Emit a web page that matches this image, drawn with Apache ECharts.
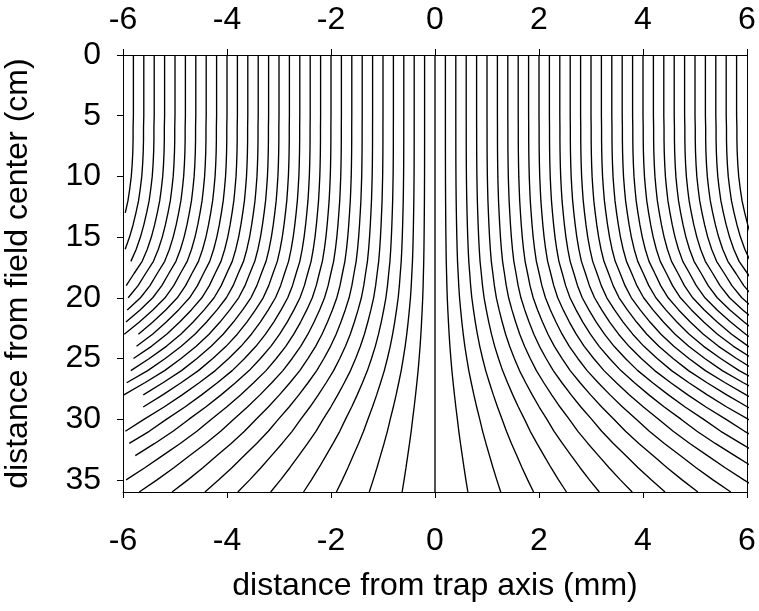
<!DOCTYPE html>
<html>
<head>
<meta charset="utf-8">
<script src="https://cdn.jsdelivr.net/npm/echarts@6/dist/echarts.min.js"></script>
<style>
  html, body { margin: 0; padding: 0; background: #fff; }
  #chart { width: 759px; height: 611px; }
</style>
</head>
<body>
<div id="chart"></div>
<script>
// Starting positions of the field lines at the field center (mm)
const lineStarts = [
  -5.8, -5.6, -5.4, -5.2, -5.0, -4.8, -4.6, -4.4, -4.2, -4.0,
  -3.8, -3.6, -3.4, -3.2, -3.0, -2.8, -2.6, -2.4, -2.2, -2.0,
  -1.8, -1.6, -1.4, -1.2, -1.0, -0.8, -0.6, -0.4, -0.2, 0.0,
  0.2, 0.4, 0.6, 0.8, 1.0, 1.2, 1.4, 1.6, 1.8, 2.0,
  2.2, 2.4, 2.6, 2.8, 3.0, 3.2, 3.4, 3.6, 3.8, 4.0,
  4.2, 4.4, 4.6, 4.8, 5.0, 5.2, 5.4, 5.6, 5.8
];

// Depth below the field center (cm), one sample per centimetre
const depths = [
  0, 1, 2, 3, 4, 5, 6, 7, 8, 9, 10, 11, 12, 13, 14, 15, 16, 17, 18,
  19, 20, 21, 22, 23, 24, 25, 26, 27, 28, 29, 30, 31, 32, 33, 34, 35, 36
];

// Radial spread of each field line relative to its start, at each depth
const spread = [
  1.000, 1.000, 1.000, 1.000, 1.000, 1.000, 1.001, 1.001, 1.002, 1.004,
  1.007, 1.012, 1.018, 1.027, 1.037, 1.049, 1.064, 1.083, 1.113, 1.142,
  1.180, 1.233, 1.292, 1.358, 1.435, 1.526, 1.625, 1.744, 1.870, 2.004,
  2.150, 2.290, 2.450, 2.620, 2.790, 2.970, 3.160
];

// Tick values
const xTicks = [-6, -4, -2, 0, 2, 4, 6];
const yTicks = [0, 5, 10, 15, 20, 25, 30, 35];
const xLimit = 6;

const FONT = '"Liberation Sans", Arial, sans-serif';
const FS = 32;

// Each line follows its start position scaled by the spread. Lines on the
// negative side keep only the samples that stay inside the plotted range;
// lines on the positive side run on and are cut off at the frame.
const series = lineStarts.map(function (x0) {
  const pts = [];
  for (let i = 0; i < depths.length; i++) {
    const x = x0 * spread[i];
    if (x0 < 0 && x < -xLimit) break;
    pts.push([x, depths[i]]);
  }
  return {
    type: 'line',
    data: pts,
    showSymbol: false,
    smooth: false,
    clip: true,
    silent: true,
    lineStyle: { color: '#000', width: 1.35 },
    z: 2
  };
});

const chart = echarts.init(document.getElementById('chart'), null, { renderer: 'canvas' });

chart.setOption({
  animation: false,
  backgroundColor: '#fff',
  grid: { left: 123, right: 12, top: 55, bottom: 119, containLabel: false, outerBoundsMode: 'none' },
  xAxis: [
    {
      type: 'value', position: 'bottom', min: -6, max: 6, interval: 2,
      name: 'distance from trap axis (mm)', nameLocation: 'middle', nameGap: 78,
      nameTextStyle: { fontFamily: FONT, fontSize: FS, color: '#000' },
      axisLine: { show: true, onZero: false, lineStyle: { color: '#000', width: 1 } },
      axisTick: { show: true, inside: false, length: 6, customValues: xTicks, lineStyle: { color: '#000' } },
      axisLabel: { fontFamily: FONT, fontSize: FS, color: '#000', margin: 33, customValues: xTicks },
      splitLine: { show: false }
    },
    {
      type: 'value', position: 'top', min: -6, max: 6, interval: 2,
      axisLine: { show: true, onZero: false, lineStyle: { color: '#000', width: 1 } },
      axisTick: { show: true, inside: false, length: 6, customValues: xTicks, lineStyle: { color: '#000' } },
      axisLabel: { fontFamily: FONT, fontSize: FS, color: '#000', margin: 19, customValues: xTicks },
      splitLine: { show: false }
    }
  ],
  yAxis: [
    {
      type: 'value', position: 'left', inverse: true, min: 0, max: 36, interval: 5,
      name: 'distance from field center (cm)', nameLocation: 'middle', nameGap: 89,
      nameRotate: 90,
      nameTextStyle: { fontFamily: FONT, fontSize: FS, color: '#000' },
      axisLine: { show: true, onZero: false, lineStyle: { color: '#000', width: 1 } },
      axisTick: { show: true, inside: false, length: 6, customValues: yTicks, lineStyle: { color: '#000' } },
      axisLabel: { fontFamily: FONT, fontSize: FS, color: '#000', margin: 22, customValues: yTicks },
      splitLine: { show: false }
    },
    {
      type: 'value', position: 'right', inverse: true, min: 0, max: 36,
      axisLine: { show: true, onZero: false, lineStyle: { color: '#000', width: 1 } },
      axisTick: { show: false },
      axisLabel: { show: false },
      splitLine: { show: false }
    }
  ],
  series: series
});
</script>
</body>
</html>
